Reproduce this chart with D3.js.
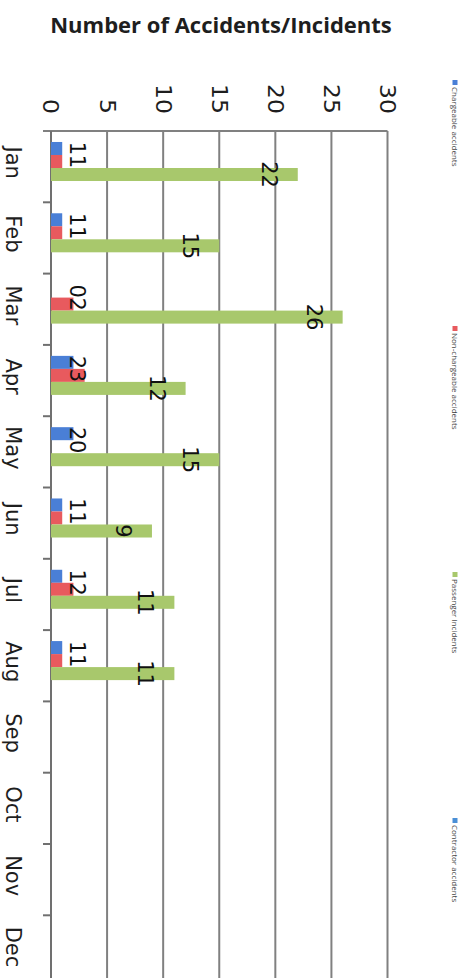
<!DOCTYPE html>
<html>
<head>
<meta charset="utf-8">
<script src="https://cdn.jsdelivr.net/npm/d3@7"></script>
<style>
  html, body { margin: 0; padding: 0; background: #fff; }
  svg { display: block; }
</style>
</head>
<body>
<svg id="chart" width="475" height="978"></svg>
<script>
const months = ["Jan","Feb","Mar","Apr","May","Jun","Jul","Aug","Sep","Oct","Nov","Dec"];
const seriesNames = ["Chargeable accidents","Non-chargeable accidents","Passenger Incidents","Contractor accidents"];
const chargeable    = [1, 1, 0, 2, 2, 1, 1, 1, null, null, null, null];
const nonChargeable = [1, 1, 2, 3, 0, 1, 2, 1, null, null, null, null];
const passenger     = [22, 15, 26, 12, 15, 9, 11, 11, null, null, null, null];
const contractor    = [null, null, null, null, null, null, null, null, null, null, null, null];
const valueTicks = [0, 5, 10, 15, 20, 25, 30];
const titleText = "Number of Accidents/Incidents";

const seriesValues = [chargeable, nonChargeable, passenger, contractor];
const colors = ["#4a7fd6", "#e85a5e", "#a8c86c", "#4a8fd6"];

const svg = d3.select("#chart");

// Value scale (horizontal after the 90° rotation of the original chart)
const x = d3.scaleLinear().domain([0, 30]).range([51, 387.5]);
// Category scale (vertical)
const y = d3.scaleBand().domain(months).range([131, 986.6]).padding(0);
const inner = d3.scaleBand().domain(d3.range(seriesNames.length))
  .range([0, y.bandwidth()]).paddingInner(0).paddingOuter(0.74).align(0.57);

// Title
svg.append("text")
  .attr("x", 221).attr("y", 33)
  .attr("text-anchor", "middle")
  .attr("font-family", "'Open Sans', sans-serif")
  .attr("font-weight", "bold")
  .attr("font-size", 22)
  .attr("fill", "#1e1e1e")
  .text(titleText);

// Gridlines
svg.append("g").selectAll("line").data(valueTicks.slice(1)).join("line")
  .attr("x1", d => x(d)).attr("x2", d => x(d))
  .attr("y1", 131).attr("y2", 978)
  .attr("stroke", "#808080").attr("stroke-width", 2);

// Value axis line (top)
svg.append("line")
  .attr("x1", 43).attr("x2", x(30)).attr("y1", 131).attr("y2", 131)
  .attr("stroke", "#808080").attr("stroke-width", 2);

// Category axis line
svg.append("line")
  .attr("x1", x(0)).attr("x2", x(0)).attr("y1", 131).attr("y2", 978)
  .attr("stroke", "#707070").attr("stroke-width", 2);

// Category ticks
svg.append("g").selectAll("line").data(months.slice(1)).join("line")
  .attr("x1", 43).attr("x2", x(0))
  .attr("y1", d => y(d)).attr("y2", d => y(d))
  .attr("stroke", "#707070").attr("stroke-width", 2);

// Value tick labels (rotated)
svg.append("g").selectAll("text").data(valueTicks).join("text")
  .attr("transform", d => `translate(${x(d)},114) rotate(90) scale(1.12,1)`)
  .attr("text-anchor", "end")
  .attr("dominant-baseline", "central")
  .attr("font-family", "'DejaVu Sans', sans-serif")
  .attr("font-size", 21)
  .attr("fill", "#1e1e1e")
  .text(d => d);

// Month labels (rotated)
svg.append("g").selectAll("text").data(months).join("text")
  .attr("transform", d => `translate(13,${y(d) + y.bandwidth() / 2 - 4}) rotate(90)`)
  .attr("text-anchor", "middle")
  .attr("dominant-baseline", "central")
  .attr("font-family", "'DejaVu Sans', sans-serif")
  .attr("font-size", 21)
  .attr("fill", "#1e1e1e")
  .text(d => d);

// Bars
const barData = [];
seriesValues.forEach((vals, s) => {
  vals.forEach((v, i) => {
    if (v !== null) barData.push({ s, month: months[i], v });
  });
});

svg.append("g").selectAll("rect").data(barData).join("rect")
  .attr("x", x(0))
  .attr("y", d => y(d.month) + inner(d.s))
  .attr("width", d => x(d.v) - x(0))
  .attr("height", inner.bandwidth())
  .attr("fill", d => colors[d.s]);

// Data labels
svg.append("g").selectAll("text").data(barData).join("text")
  .attr("transform", d => {
    const cx = d.s === 2 ? x(d.v) - 29 : x(0) + 26;
    const cy = y(d.month) + inner(d.s) + inner.bandwidth() / 2;
    return `translate(${cx},${cy}) rotate(90)`;
  })
  .attr("text-anchor", "middle")
  .attr("dominant-baseline", "central")
  .attr("font-family", "'DejaVu Sans', sans-serif")
  .attr("font-size", 21)
  .attr("fill", "#111")
  .text(d => d.v);

// Legend (rotated, right side)
const legendY = d3.scalePoint().domain(seriesNames).range([80, 818]);
const lg = svg.append("g").selectAll("g").data(seriesNames).join("g")
  .attr("transform", d => `translate(455,${legendY(d)}) rotate(90)`);
lg.append("rect").attr("x", 0).attr("y", -2.5).attr("width", 5).attr("height", 5)
  .attr("fill", (d, i) => colors[i]);
lg.append("text").attr("x", 7).attr("y", 0)
  .attr("dominant-baseline", "central")
  .attr("font-family", "'Open Sans', sans-serif")
  .attr("font-size", 8)
  .attr("fill", "#444")
  .text(d => d);
</script>
</body>
</html>
